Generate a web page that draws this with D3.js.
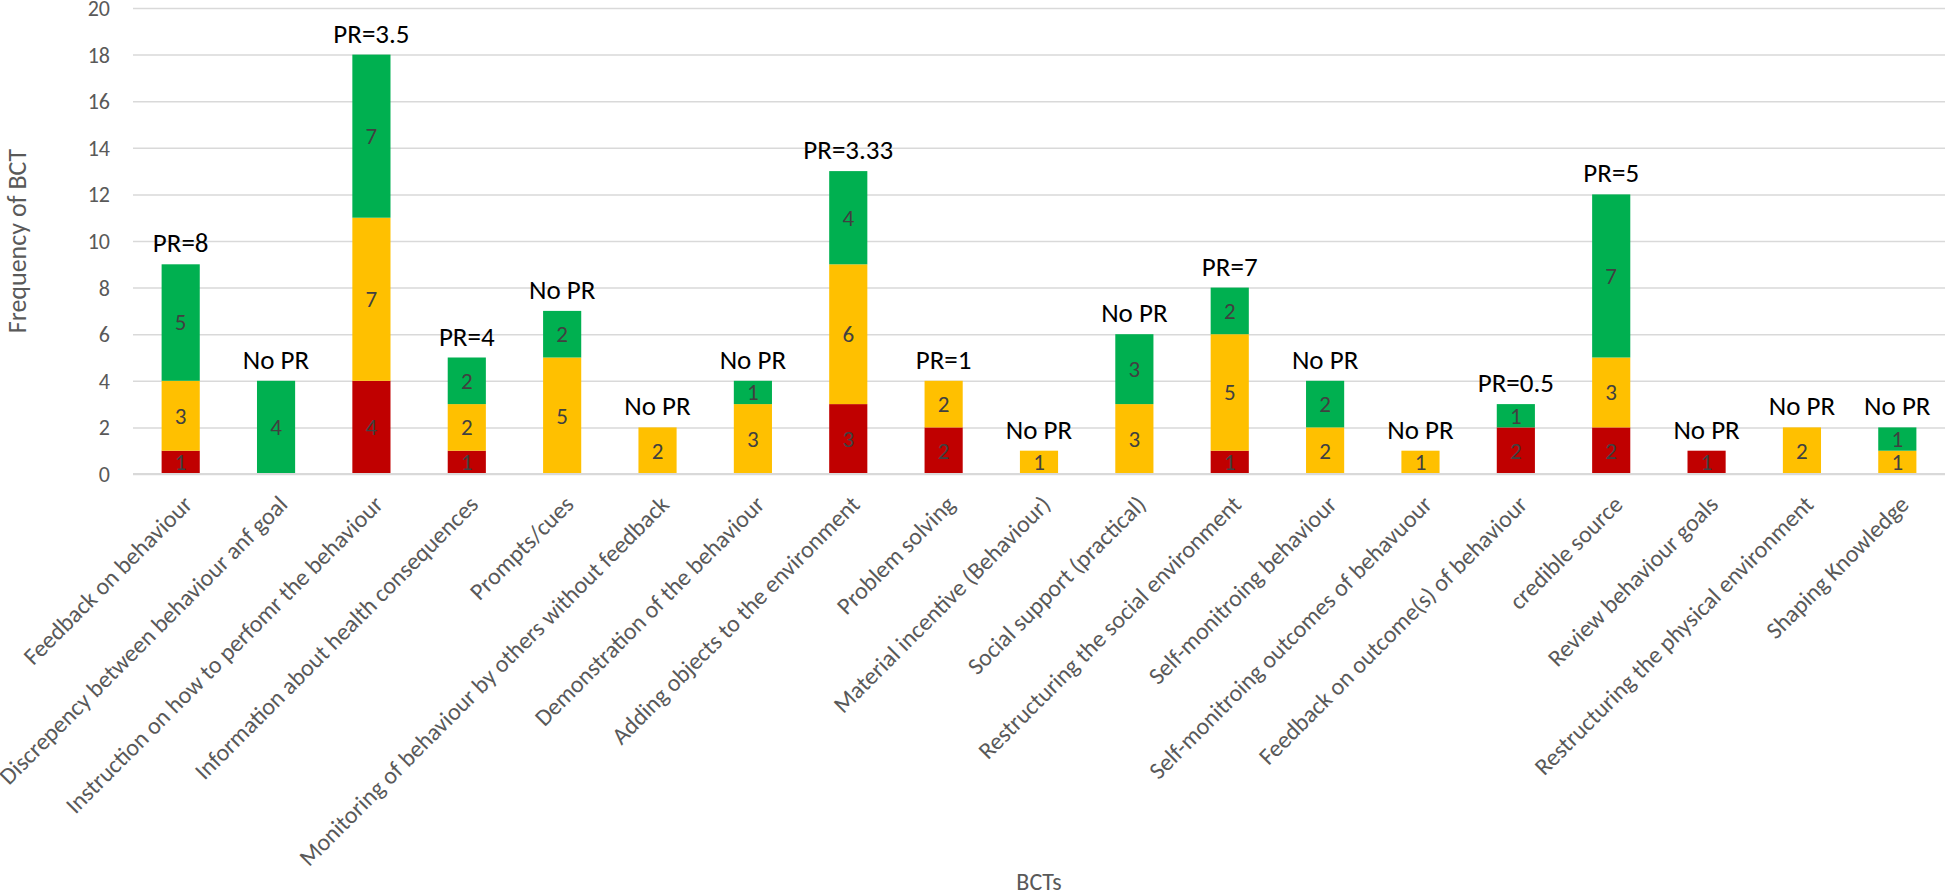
<!DOCTYPE html>
<html>
<head>
<meta charset="utf-8">
<script src="https://cdn.jsdelivr.net/npm/d3@7"></script>
<style>
  body { margin: 0; background: #fff; }
  text { font-family: Calibri, Carlito, "Open Sans", sans-serif; }
</style>
</head>
<body>
<div class="chart"></div>
<script>
(function(){

var categories = [
  "Feedback on behaviour",
  "Discrepency between behaviour anf goal",
  "Instruction on how to perfomr the behaviour",
  "Information about health consequences",
  "Prompts/cues",
  "Monitoring of behaviour by others without feedback",
  "Demonstration of the behaviour",
  "Adding objects to the environment",
  "Problem solving",
  "Material incentive (Behaviour)",
  "Social support (practical)",
  "Restructuring the social environment",
  "Self-monitroing behaviour",
  "Self-monitroing outcomes of behavuour",
  "Feedback on outcome(s) of behaviour",
  "credible source",
  "Review behaviour goals",
  "Restructuring the physical environment",
  "Shaping Knowledge"
];

// stacked from the bottom: red, yellow, green
var redVals    = [1, 0, 4, 1, 0, 0, 0, 3, 2, 0, 0, 1, 0, 0, 2, 2, 1, 0, 0];
var yellowVals = [3, 0, 7, 2, 5, 2, 3, 6, 2, 1, 3, 5, 2, 1, 0, 3, 0, 2, 1];
var greenVals  = [5, 4, 7, 2, 2, 0, 1, 4, 0, 0, 3, 2, 2, 0, 1, 7, 0, 0, 1];

var prLabels = ["PR=8", "No PR", "PR=3.5", "PR=4", "No PR", "No PR", "No PR", "PR=3.33", "PR=1",
  "No PR", "No PR", "PR=7", "No PR", "No PR", "PR=0.5", "PR=5", "No PR", "No PR", "No PR"];

var yTicks = [0, 2, 4, 6, 8, 10, 12, 14, 16, 18, 20];

var keys = ["red", "yellow", "green"];
var colors = {red: "#C00000", yellow: "#FFC000", green: "#00B050"};

var width = 1946,
    height = 895,
    left = 133,
    right = 1945,
    top = 8,
    bottom = 474;

var rows = categories.map(function(c, i){
  return {cat: c, red: redVals[i], yellow: yellowVals[i], green: greenVals[i], pr: prLabels[i]};
});

var svg = d3.select(".chart")
  .append("svg")
  .attr("width", width)
  .attr("height", height);

var x = d3.scaleBand()
  .domain(categories)
  .range([left, right])
  .paddingInner(0.6)
  .paddingOuter(0.3);

var y = d3.scaleLinear()
  .domain([0, 20])
  .range([bottom, top]);

// gridlines
svg.append("g")
  .attr("class", "grid")
  .attr("transform", "translate(" + left + ",0)")
  .call(d3.axisLeft(y).tickValues(yTicks).tickSize(-(right - left)).tickFormat(""))
  .call(function(g){
    g.select(".domain").remove();
    g.selectAll("line").attr("stroke", "#d9d9d9").attr("stroke-width", 1.5);
  });

// y tick labels
svg.append("g")
  .attr("transform", "translate(" + left + ",0)")
  .call(d3.axisLeft(y).tickValues(yTicks).tickSize(0).tickPadding(23))
  .call(function(g){
    g.select(".domain").remove();
    g.selectAll("text")
      .attr("fill", "#595959")
      .attr("dy", "0.34em")
      .style("font-size", "22px");
  });

var stack = d3.stack().keys(keys);
var series = stack(rows);

var layers = svg.selectAll(".layer")
  .data(series)
  .enter()
  .append("g")
  .attr("class", "layer")
  .attr("fill", function(d){ return colors[d.key]; });

layers.selectAll("rect")
  .data(function(d){ return d; })
  .enter()
  .append("rect")
  .attr("x", function(d){ return x(d.data.cat); })
  .attr("y", function(d){ return y(d[1]); })
  .attr("width", x.bandwidth())
  .attr("height", function(d){ return y(d[0]) - y(d[1]); });

// values inside the segments
layers.selectAll(".val")
  .data(function(d){ return d.filter(function(p){ return p[1] - p[0] > 0; }); })
  .enter()
  .append("text")
  .attr("class", "val")
  .attr("x", function(d){ return x(d.data.cat) + x.bandwidth() / 2; })
  .attr("y", function(d){ return y((d[0] + d[1]) / 2); })
  .attr("dy", "0.34em")
  .attr("text-anchor", "middle")
  .attr("fill", "#404040")
  .style("font-size", "23px")
  .text(function(d){ return d[1] - d[0]; });

// baseline
svg.append("line")
  .attr("x1", left).attr("x2", right)
  .attr("y1", y(0)).attr("y2", y(0))
  .attr("stroke", "#d9d9d9")
  .attr("stroke-width", 2);

// PR labels above bars
svg.selectAll(".pr")
  .data(rows)
  .enter()
  .append("text")
  .attr("class", "pr")
  .attr("x", function(d){ return x(d.cat) + x.bandwidth() / 2; })
  .attr("y", function(d){ return y(d.red + d.yellow + d.green) - 12; })
  .attr("text-anchor", "middle")
  .attr("fill", "#000")
  .style("font-size", "27px")
  .text(function(d){ return d.pr; });

// category labels, rotated
svg.selectAll(".cat")
  .data(categories)
  .enter()
  .append("text")
  .attr("class", "cat")
  .attr("transform", function(d){
    return "translate(" + (x(d) + x.bandwidth() / 2 + 7) + "," + (bottom + 26) + ") rotate(-45)";
  })
  .attr("text-anchor", "end")
  .attr("dy", "0.35em")
  .attr("fill", "#595959")
  .style("font-size", "24px")
  .text(function(d){ return d; });

// axis titles
svg.append("text")
  .attr("transform", "translate(" + 26 + "," + ((top + bottom) / 2) + ") rotate(-90)")
  .attr("text-anchor", "middle")
  .attr("fill", "#595959")
  .style("font-size", "26px")
  .text("Frequency of BCT");

svg.append("text")
  .attr("x", (left + right) / 2)
  .attr("y", 890)
  .attr("text-anchor", "middle")
  .attr("fill", "#595959")
  .style("font-size", "24px")
  .text("BCTs");

})();
</script>
</body>
</html>
